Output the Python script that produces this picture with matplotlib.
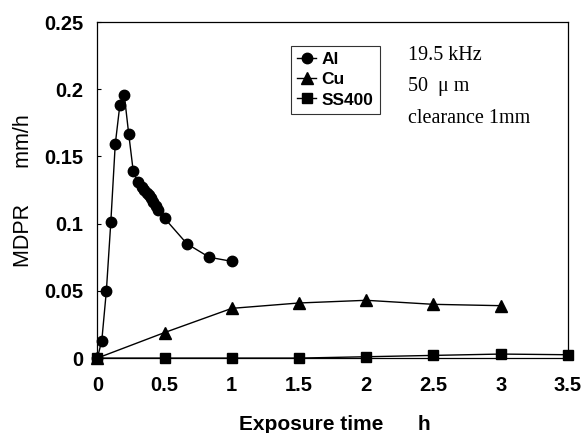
import matplotlib
matplotlib.use("Agg")
import matplotlib.pyplot as plt

# MDPR vs exposure time
al_t = [0, 0.033, 0.067, 0.1, 0.133, 0.167, 0.2, 0.233, 0.267, 0.3,
        0.333, 0.35, 0.367, 0.383, 0.4, 0.417, 0.433, 0.45, 0.5, 0.667, 0.833, 1.0]
al_v = [0, 0.013, 0.050, 0.101, 0.159, 0.188, 0.196, 0.167, 0.139, 0.131,
        0.127, 0.125, 0.123, 0.121, 0.119, 0.116, 0.113, 0.110, 0.104, 0.085, 0.075, 0.072]
cu_t = [0, 0.5, 1.0, 1.5, 2.0, 2.5, 3.0]
cu_v = [0, 0.019, 0.037, 0.041, 0.043, 0.040, 0.039]
ss_t = [0, 0.5, 1.0, 1.5, 2.0, 2.5, 3.0, 3.5]
ss_v = [0, 0, 0, 0, 0.001, 0.002, 0.003, 0.0025]

xticks = [0, 0.5, 1, 1.5, 2, 2.5, 3, 3.5]
xtick_labels = ["0", "0.5", "1", "1.5", "2", "2.5", "3", "3.5"]
yticks = [0, 0.05, 0.1, 0.15, 0.2, 0.25]
ytick_labels = ["0", "0.05", "0.1", "0.15", "0.2", "0.25"]
notes = ["19.5 kHz", "50  \u03bc m", "clearance 1mm"]

plt.rcParams["font.family"] = ["Liberation Sans", "DejaVu Sans"]

fig = plt.figure(figsize=(5.83, 4.33), dpi=100)
ax = fig.add_axes([0.167, 0.173, 0.807, 0.776])

kw = dict(color="black", lw=1.0, markeredgecolor="black", markerfacecolor="black",
          clip_on=False)
ax.plot(ss_t, ss_v, marker="s", ms=7, label="SS400", zorder=3, **kw)
ax.plot(cu_t, cu_v, marker="^", ms=8, label="Cu", zorder=3, **kw)
ax.plot(al_t, al_v, marker="o", ms=7.5, label="Al", zorder=4, **kw)

ax.set_xlim(0, 3.5)
ax.set_ylim(0, 0.25)
ax.set_xticks(xticks)
ax.set_xticklabels(xtick_labels)
ax.set_yticks(yticks)
ax.set_yticklabels(ytick_labels)
ax.tick_params(axis="both", direction="in", length=3, labelsize=14.5, width=0.8)
ax.tick_params(axis="x", pad=13)
ax.tick_params(axis="y", pad=10)
for lab in ax.get_xticklabels() + ax.get_yticklabels():
    lab.set_fontweight("semibold")
for s in ax.spines.values():
    s.set_linewidth(0.9)

ax.set_xlabel("Exposure time      h", fontsize=15, fontweight="bold")
ax.xaxis.set_label_coords(0.505, -0.168)
ax.set_ylabel("MDPR      mm/h", fontsize=15.5)
ax.yaxis.set_label_coords(-0.135, 0.497)

h, l = ax.get_legend_handles_labels()
leg = ax.legend(h[::-1], l[::-1], loc="upper left", bbox_to_anchor=(0.412, 0.93),
                frameon=True, fancybox=False, edgecolor="black", handlelength=1.1,
                handletextpad=0.3, borderpad=0.35, labelspacing=0.3,
                borderaxespad=0, prop={"size": 12.5, "weight": "bold"})
leg.get_frame().set_linewidth(0.8)

for i, t in enumerate(notes):
    ax.text(0.660, 0.902 - i * 0.094, t, transform=ax.transAxes, fontsize=14.5,
            family="Liberation Serif", va="center", ha="left")

fig.savefig("out.png", dpi=100)
